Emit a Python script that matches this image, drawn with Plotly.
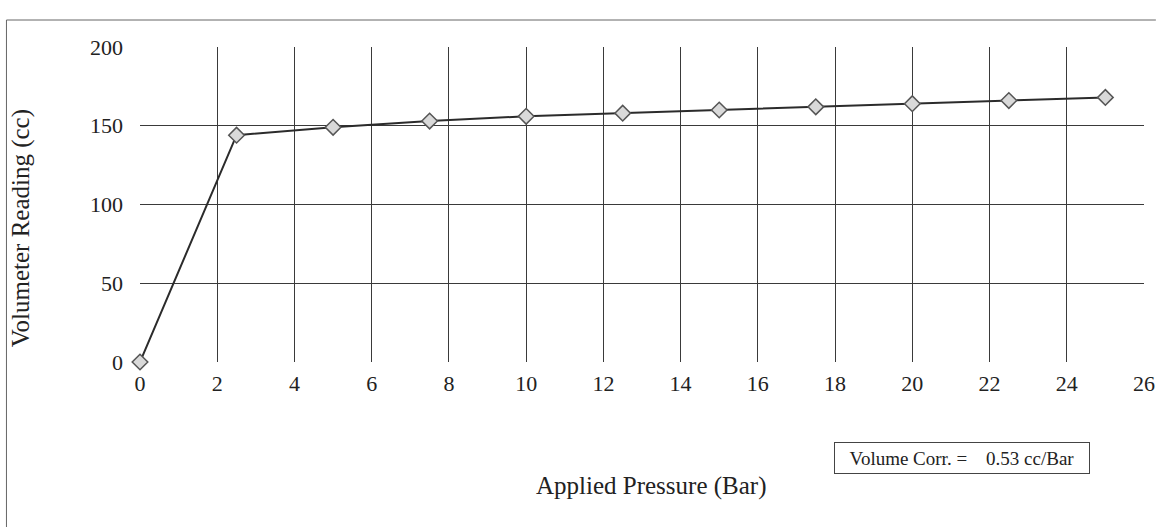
import plotly.graph_objects as go

pressure = [0, 2.5, 5, 7.5, 10, 12.5, 15, 17.5, 20, 22.5, 25]
volume = [0, 144, 149, 153, 156, 158, 160, 162, 164, 166, 168]
x_ticks = list(range(0, 27, 2))
y_ticks = [0, 50, 100, 150, 200]
note_text = "Volume Corr. =    0.53 cc/Bar"

FONT = "Liberation Serif"

fig = go.Figure()
fig.add_trace(go.Scatter(
    x=pressure, y=volume, mode="lines+markers",
    line=dict(color="#2b2b2b", width=2),
    marker=dict(symbol="diamond", size=12, color="#d9d9d9",
                line=dict(color="#555555", width=1.5)),
    cliponaxis=False, showlegend=False,
))

fig.update_layout(
    width=1167, height=527,
    margin=dict(l=140, r=12, t=47, b=165),
    paper_bgcolor="white", plot_bgcolor="white",
    font=dict(family=FONT, size=22, color="#222"),
    xaxis=dict(range=[0, 26], tickvals=x_ticks, showgrid=True,
               gridcolor="#3a3a3a", gridwidth=1, zeroline=False,
               showline=False, ticks="", tickfont=dict(size=22),
               ticklabelstandoff=6),
    yaxis=dict(range=[0, 200], tickvals=y_ticks, showgrid=True,
               gridcolor="#3a3a3a", gridwidth=1, zeroline=False,
               showline=False, ticks="", tickfont=dict(size=22),
               ticklabelstandoff=16),
)

# axis titles
fig.add_annotation(xref="paper", yref="paper", x=(657 - 140) / 1015,
                   y=(362 - 486) / 315, text="Applied Pressure (Bar)",
                   showarrow=False, xanchor="center", yanchor="middle",
                   font=dict(family=FONT, size=25, color="#222"))
fig.add_annotation(xref="paper", yref="paper", x=(20 - 140) / 1015,
                   y=(362 - 228) / 315, text="Volumeter Reading (cc)",
                   textangle=-90, showarrow=False, xanchor="center",
                   yanchor="middle",
                   font=dict(family=FONT, size=25, color="#222"))

fig.add_annotation(
    xref="paper", yref="paper", x=(971 - 140) / 1015, y=(362 - 458) / 315,
    xanchor="center", yanchor="middle",
    text=note_text, showarrow=False, width=250, height=26,
    font=dict(family=FONT, size=19, color="#222"),
    bordercolor="#444", borderwidth=1, borderpad=2, bgcolor="white",
)

# scanned frame edges
for x0, y0, x1, y1 in [(5, 20, 5, 527), (5, 20, 1167, 20)]:
    fig.add_shape(type="line", xref="paper", yref="paper",
                  x0=(x0 - 140) / 1015, x1=(x1 - 140) / 1015,
                  y0=(362 - y0) / 315, y1=(362 - y1) / 315,
                  line=dict(color="#666", width=1))

fig.write_html("out.html")
